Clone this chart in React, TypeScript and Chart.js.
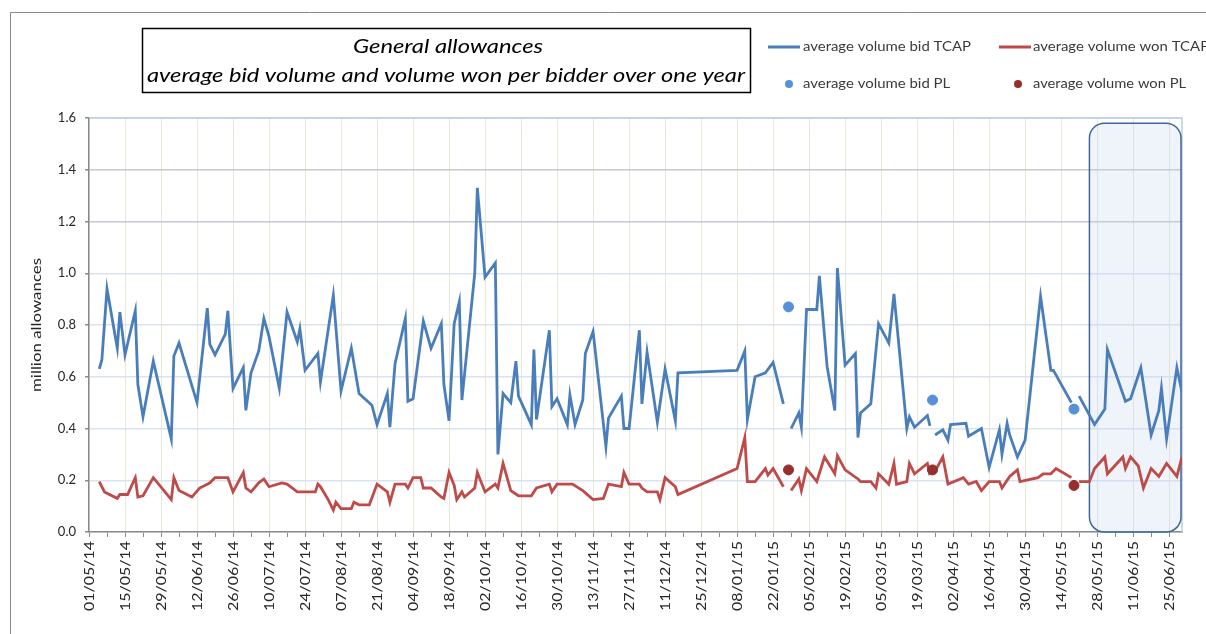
import React, { useEffect, useRef } from 'react';
import { Chart, registerables } from 'chart.js';

Chart.register(...registerables);

// Date axis: x values are days since 01/05/14
const tickLabels = [
  '01/05/14', '15/05/14', '29/05/14', '12/06/14', '26/06/14', '10/07/14', '24/07/14',
  '07/08/14', '21/08/14', '04/09/14', '18/09/14', '02/10/14', '16/10/14', '30/10/14',
  '13/11/14', '27/11/14', '11/12/14', '25/12/14', '08/01/15', '22/01/15', '05/02/15',
  '19/02/15', '05/03/15', '19/03/15', '02/04/15', '16/04/15', '30/04/15', '14/05/15',
  '28/05/15', '11/06/15', '25/06/15',
];
const axisDays = [0, 425];
const labelEveryDays = 14;
const tickEveryDays = 7;

const bidDays = [
  4, 5, 7, 11, 12, 14, 18, 19, 21, 25, 32, 33, 35, 42, 46, 47, 49, 53, 54, 56, 60, 61, 63, 66, 68, 70,
  74, 77, 81, 82, 84, 89, 90, 95, 98, 102, 105, 110, 112, 116, 117, 119, 123, 124, 126, 130, 133, 137, 138, 140,
  142, 144, 145, 150, 151, 154, 158, 159, 161, 164, 166, 167, 172, 173, 174, 179, 180, 182, 186, 187, 189,
  192, 193, 196, 201, 202, 207, 208, 210, 214, 215, 217, 221, 224, 228, 229, 252, 255, 256, 259, 263, 266, 270,
  272, 273, 276, 277, 279, 283, 284, 287, 290, 291, 294, 298, 299, 300, 304, 307, 311, 313, 318, 319, 321, 326, 327,
  328, 329, 332, 334, 335, 341, 342, 347, 350, 354, 355, 357, 358, 361, 364, 370, 374, 375, 382,
  383, 385, 391, 395, 396, 403, 405, 409, 413, 416, 417, 419, 423, 425,
];
const bidTCAP = [
  0.63, 0.665, 0.94, 0.71, 0.85, 0.685, 0.855, 0.57, 0.445, 0.66, 0.36, 0.68, 0.73, 0.5, 0.865, 0.725, 0.685, 0.765, 0.855, 0.555, 0.635, 0.47, 0.615, 0.7, 0.825, 0.755,
  0.555, 0.85, 0.735, 0.785, 0.625, 0.69, 0.58, 0.915, 0.545, 0.71, 0.535, 0.49, 0.415, 0.535, 0.405, 0.65, 0.825, 0.505, 0.515, 0.815, 0.71, 0.805, 0.57, 0.43,
  0.805, 0.89, 0.51, 1.0, 1.33, 0.985, 1.04, 0.3, 0.535, 0.5, 0.66, 0.525, 0.415, 0.705, 0.435, 0.78, 0.485, 0.515, 0.415, 0.53, 0.415,
  0.51, 0.69, 0.775, 0.33, 0.44, 0.525, 0.4, 0.4, 0.78, 0.495, 0.695, 0.425, 0.63, 0.43, 0.615, 0.625, 0.7, 0.435, 0.6, 0.615, 0.655, 0.495,
  null, 0.4, 0.46, 0.405, 0.86, 0.86, 0.99, 0.64, 0.47, 1.02, 0.645, 0.69, 0.365, 0.46, 0.495, 0.805, 0.73, 0.92, 0.4, 0.445, 0.405, 0.45, 0.41,
  null, 0.375, 0.395, 0.355, 0.415, 0.42, 0.37, 0.4, 0.25, 0.395, 0.3, 0.42, 0.375, 0.29, 0.355, 0.91, 0.625, 0.625, 0.5,
  null, 0.525, 0.415, 0.475, 0.705, 0.505, 0.515, 0.635, 0.375, 0.47, 0.555, 0.36, 0.635, 0.54,
];

const wonDays = [
  4, 6, 11, 12, 15, 18, 19, 21, 25, 32, 33, 35, 40, 43, 46, 47, 49, 54, 56, 60, 61, 63, 66, 68, 70,
  75, 77, 81, 88, 89, 90, 93, 95, 96, 98, 102, 103, 105, 109, 112, 116, 117, 119, 123, 124, 126, 129, 130, 133, 137, 138, 140,
  142, 143, 145, 146, 150, 151, 154, 158, 159, 161, 164, 167, 172, 174, 179, 180, 182, 188, 192, 196, 200, 202, 207, 208, 210,
  214, 215, 217, 221, 222, 224, 228, 229, 252, 255, 256, 259, 263, 264, 266, 270,
  272, 273, 276, 277, 279, 283, 286, 290, 291, 294, 299, 300, 304, 306, 307, 311, 313, 314, 318, 319, 321, 326, 327,
  328, 329, 332, 334, 340, 342, 345, 347, 350, 354, 355, 358, 361, 362, 369, 371, 374, 376, 382,
  383, 385, 389, 391, 395, 396, 402, 403, 405, 408, 410, 413, 416, 419, 423, 425,
];
const wonTCAP = [
  0.195, 0.155, 0.13, 0.145, 0.145, 0.21, 0.135, 0.14, 0.21, 0.125, 0.21, 0.16, 0.135, 0.17, 0.185, 0.19, 0.21, 0.21, 0.155, 0.23, 0.17, 0.155, 0.19, 0.205, 0.175,
  0.19, 0.185, 0.155, 0.155, 0.185, 0.175, 0.125, 0.085, 0.115, 0.09, 0.09, 0.115, 0.105, 0.105, 0.185, 0.155, 0.115, 0.185, 0.185, 0.17, 0.21, 0.21, 0.17, 0.17, 0.135, 0.13, 0.23,
  0.18, 0.125, 0.155, 0.135, 0.17, 0.23, 0.155, 0.185, 0.17, 0.265, 0.16, 0.14, 0.14, 0.17, 0.185, 0.155, 0.185, 0.185, 0.16, 0.125, 0.13, 0.185, 0.175, 0.23, 0.185,
  0.185, 0.17, 0.155, 0.155, 0.125, 0.21, 0.175, 0.145, 0.245, 0.365, 0.195, 0.195, 0.245, 0.22, 0.245, 0.175,
  null, 0.16, 0.205, 0.16, 0.245, 0.195, 0.29, 0.225, 0.295, 0.24, 0.205, 0.195, 0.195, 0.17, 0.225, 0.185, 0.265, 0.185, 0.195, 0.265, 0.225, 0.265, 0.22,
  null, 0.235, 0.29, 0.185, 0.21, 0.185, 0.195, 0.16, 0.195, 0.195, 0.17, 0.215, 0.24, 0.195, 0.21, 0.225, 0.225, 0.245, 0.21,
  null, 0.195, 0.195, 0.245, 0.29, 0.225, 0.29, 0.245, 0.29, 0.255, 0.17, 0.245, 0.215, 0.265, 0.215, 0.29,
];

const plDays = [272, 328, 383];
const bidPL = [0.87, 0.51, 0.475];
const wonPL = [0.24, 0.24, 0.18];

const highlightDays = [389, 425];
const highlightTop = 1.58;

const seriesNames = [
  'average volume bid TCAP',
  'average volume won TCAP',
  'average volume bid PL',
  'average volume won PL',
];
const titleLines = ['General allowances', 'average bid volume and volume won per bidder over one year'];
const yTitle = 'million allowances';

const BLUE = '#4a7ebb';
const RED = '#be4b48';
const BLUE_PL = '#5590d8';
const RED_PL = '#96302d';
const FONT = 'Lato, "Liberation Sans", sans-serif';

function drawStretched(ctx: CanvasRenderingContext2D, text: string, x: number, y: number, sx: number, align: CanvasTextAlign) {
  ctx.save();
  ctx.translate(x, y);
  ctx.scale(sx, 1);
  ctx.textAlign = align;
  ctx.fillText(text, 0, 0);
  ctx.restore();
}

export default function App() {
  const ref = useRef<HTMLCanvasElement>(null);

  useEffect(() => {
    document.body.style.margin = '0';
    const canvas = ref.current!;
    const pts = (xs: number[], ys: (number | null)[]) => xs.map((x, i) => ({ x, y: ys[i] }));

    const decor = {
      id: 'decor',
      beforeDraw(chart: any) {
        const ctx = chart.ctx as CanvasRenderingContext2D;
        ctx.save();
        ctx.fillStyle = '#ffffff';
        ctx.fillRect(0, 0, chart.width, chart.height);
        ctx.strokeStyle = '#8a8a8a';
        ctx.lineWidth = 1;
        ctx.beginPath();
        ctx.moveTo(10.5, chart.height);
        ctx.lineTo(10.5, 12.5);
        ctx.lineTo(chart.width, 12.5);
        ctx.stroke();
        ctx.restore();
      },
      beforeDatasetsDraw(chart: any) {
        const ctx = chart.ctx as CanvasRenderingContext2D;
        const { chartArea, scales } = chart;
        const xs = scales.x;
        const ys = scales.y;
        ctx.save();
        // plot area top/right border
        ctx.strokeStyle = '#b9cde6';
        ctx.lineWidth = 1.5;
        ctx.beginPath();
        ctx.moveTo(chartArea.left, chartArea.top);
        ctx.lineTo(chartArea.right, chartArea.top);
        ctx.lineTo(chartArea.right, chartArea.bottom);
        ctx.stroke();
        // highlight rounded box
        const x1 = xs.getPixelForValue(highlightDays[0]);
        const x2 = xs.getPixelForValue(highlightDays[1]) - 1;
        const y1 = ys.getPixelForValue(highlightTop);
        const y2 = ys.getPixelForValue(0);
        const r = 15;
        ctx.beginPath();
        ctx.moveTo(x1 + r, y1);
        ctx.lineTo(x2 - r, y1);
        ctx.arcTo(x2, y1, x2, y1 + r, r);
        ctx.lineTo(x2, y2 - r);
        ctx.arcTo(x2, y2, x2 - r, y2, r);
        ctx.lineTo(x1 + r, y2);
        ctx.arcTo(x1, y2, x1, y2 - r, r);
        ctx.lineTo(x1, y1 + r);
        ctx.arcTo(x1, y1, x1 + r, y1, r);
        ctx.closePath();
        ctx.fillStyle = 'rgba(196, 212, 236, 0.28)';
        ctx.fill();
        ctx.strokeStyle = '#41679a';
        ctx.lineWidth = 1.5;
        ctx.stroke();
        ctx.restore();
      },
      afterDraw(chart: any) {
        const ctx = chart.ctx as CanvasRenderingContext2D;
        const xs = chart.scales.x;
        ctx.save();
        ctx.fillStyle = '#262626';
        ctx.textBaseline = 'middle';

        // x tick labels (rotated)
        ctx.font = `13px ${FONT}`;
        const sxX = 70 / ctx.measureText(tickLabels[0]).width;
        tickLabels.forEach((lab, i) => {
          const px = xs.getPixelForValue(i * labelEveryDays);
          ctx.save();
          ctx.translate(px + 1, chart.chartArea.bottom + 9);
          ctx.rotate(-Math.PI / 2);
          ctx.scale(sxX, 1);
          ctx.textAlign = 'right';
          ctx.fillText(lab, 0, 0);
          ctx.restore();
        });

        // y title
        ctx.font = `13px ${FONT}`;
        const sxY = 134 / ctx.measureText(yTitle).width;
        ctx.save();
        ctx.translate(37, 325);
        ctx.rotate(-Math.PI / 2);
        ctx.scale(sxY, 1);
        ctx.textAlign = 'center';
        ctx.fillText(yTitle, 0, 0);
        ctx.restore();

        // title box
        ctx.strokeStyle = '#000000';
        ctx.lineWidth = 1.5;
        ctx.strokeRect(142.5, 28.5, 608, 64);
        ctx.fillStyle = '#000000';
        ctx.font = `italic 19px ${FONT}`;
        const s1 = 190 / ctx.measureText(titleLines[0]).width;
        drawStretched(ctx, titleLines[0], 448, 47, s1, 'center');
        const s2 = 598 / ctx.measureText(titleLines[1]).width;
        drawStretched(ctx, titleLines[1], 446, 76, s2, 'center');

        // legend
        ctx.font = `13px ${FONT}`;
        ctx.fillStyle = '#3a3a3a';
        const sl = 168 / ctx.measureText(seriesNames[0]).width;
        ctx.lineWidth = 3;
        ctx.strokeStyle = BLUE;
        ctx.beginPath(); ctx.moveTo(768, 47); ctx.lineTo(800, 47); ctx.stroke();
        drawStretched(ctx, seriesNames[0], 803, 47, sl, 'left');
        ctx.strokeStyle = RED;
        ctx.beginPath(); ctx.moveTo(999, 47); ctx.lineTo(1031, 47); ctx.stroke();
        drawStretched(ctx, seriesNames[1], 1033, 47, sl, 'left');
        ctx.fillStyle = BLUE_PL;
        ctx.beginPath(); ctx.arc(789, 84, 4, 0, Math.PI * 2); ctx.fill();
        ctx.fillStyle = RED_PL;
        ctx.beginPath(); ctx.arc(1018, 84, 4, 0, Math.PI * 2); ctx.fill();
        ctx.fillStyle = '#3a3a3a';
        drawStretched(ctx, seriesNames[2], 803, 84, sl, 'left');
        drawStretched(ctx, seriesNames[3], 1033, 84, sl * 0.985, 'left');
        ctx.restore();
      },
    };

    const chart = new Chart(canvas, {
      type: 'line',
      data: {
        datasets: [
          {
            type: 'scatter',
            label: seriesNames[2],
            data: pts(plDays, bidPL),
            backgroundColor: BLUE_PL,
            borderColor: BLUE_PL,
            pointRadius: 5,
            showLine: false,
            order: 0,
          } as any,
          {
            type: 'scatter',
            label: seriesNames[3],
            data: pts(plDays, wonPL),
            backgroundColor: RED_PL,
            borderColor: RED_PL,
            pointRadius: 5,
            showLine: false,
            order: 0,
          } as any,
          {
            label: seriesNames[0],
            data: pts(bidDays, bidTCAP),
            borderColor: BLUE,
            borderWidth: 2.8,
            pointRadius: 0,
            spanGaps: false,
            tension: 0,
            order: 2,
          },
          {
            label: seriesNames[1],
            data: pts(wonDays, wonTCAP),
            borderColor: RED,
            borderWidth: 2.8,
            pointRadius: 0,
            spanGaps: false,
            tension: 0,
            order: 1,
          },
        ],
      },
      options: {
        responsive: false,
        animation: false,
        devicePixelRatio: 1,
        layout: { padding: { top: 118, right: 24, left: 0, bottom: 0 } },
        plugins: { legend: { display: false }, tooltip: { enabled: false }, title: { display: false } },
        scales: {
          x: {
            type: 'linear',
            min: axisDays[0],
            max: axisDays[1],
            afterFit: (s: any) => { s.height = 102; },
            ticks: { display: false, stepSize: tickEveryDays, includeBounds: false, autoSkip: false },
            grid: {
              color: (c: any) => (c.tick && c.tick.value % labelEveryDays === 0 ? '#e9e7da' : 'rgba(0,0,0,0)'),
              lineWidth: 1,
              drawTicks: true,
              tickLength: 5,
              tickColor: '#8a8a8a',
              tickWidth: 1,
            },
            border: { color: '#8a8a8a', width: 1.5 },
          },
          y: {
            min: 0,
            max: 1.6,
            afterFit: (s: any) => { s.width = 89; },
            ticks: {
              stepSize: 0.2,
              padding: 9,
              color: '#262626',
              font: { family: FONT, size: 13 },
              callback: (v: any) => Number(v).toFixed(1),
            },
            grid: {
              color: (c: any) => {
                const v = c.tick ? c.tick.value : 0;
                return Math.abs(v - 1.2) < 1e-6 || Math.abs(v - 1.4) < 1e-6 ? '#c6c8d2' : '#dae3f1';
              },
              lineWidth: 1.5,
              drawTicks: true,
              tickLength: 4,
              tickColor: '#8a8a8a',
            },
            border: { color: '#8a8a8a', width: 1.5 },
          },
        },
      },
      plugins: [decor],
    });

    return () => chart.destroy();
  }, []);

  return <canvas ref={ref} width={1206} height={634} style={{ display: 'block', width: 1206, height: 634 }} />;
}
